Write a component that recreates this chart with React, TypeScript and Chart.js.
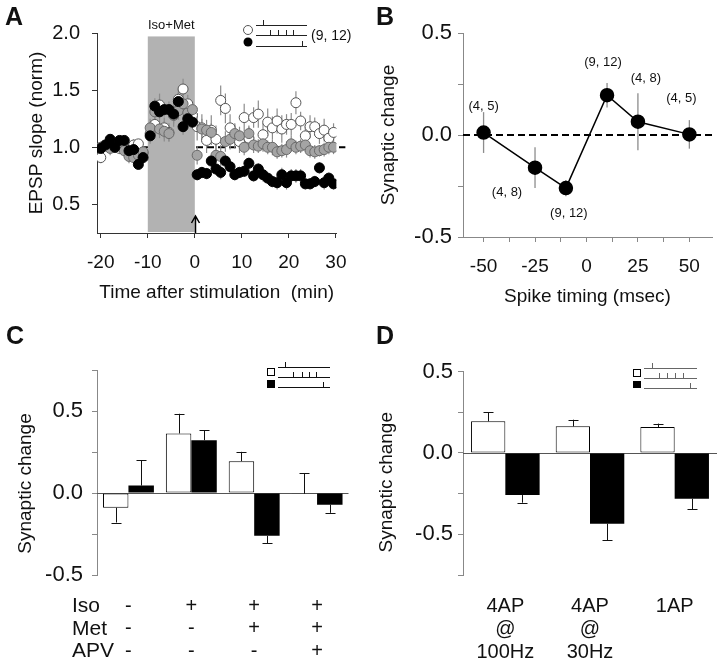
import React, { useEffect, useRef } from "react";
import { Chart, registerables } from "chart.js";

Chart.register(...registerables);

const FONT = '"Liberation Sans", Arial, Helvetica, sans-serif';
Chart.defaults.font.family = FONT;
Chart.defaults.color = "#111";

// ---------------- Panel A data ----------------
const minutesA = [
  -20, -19, -18, -17, -16, -15, -14, -13, -12, -11,
  -9.5, -8.5, -7.5, -6.5, -5.5, -4.5, -3.5, -2.5, -1.5, -0.5,
  0.5, 1.5, 2.5, 3.5, 4.5, 5.5, 6.5, 7.5, 8.5, 9.5,
  10.5, 11.5, 12.5, 13.5, 14.5, 15.5, 16.5, 17.5, 18.5, 19.5,
  20.5, 21.5, 22.5, 23.5, 24.5, 25.5, 26.5, 27.5, 28.5, 29.5,
];
const openA = [
  0.91, 1.01, 1.02, 1.0, 0.99, 1.0, 0.98, 1.02, 1.03, 0.95,
  1.12, 1.2, 1.37, 1.17, 1.13, 1.28, 1.42, 1.51, 1.38, 1.28,
  1.18, 1.17, 1.06, 1.15, 1.07, 1.41, 1.34, 1.17, 1.1, 1.05,
  1.26, 1.08, 1.26, 1.29, 1.11, 1.22, 1.17, 1.23, 1.16, 1.2,
  1.2, 1.39, 1.23, 1.1, 1.18, 1.18, 1.12, 1.15, 1.08, 1.13,
];
const grayA = [
  1.0, 1.02, 0.99, 1.0, 1.01, 0.97, 0.92, 0.91, 0.93, 0.96,
  1.17, 1.31, 1.16, 1.14, 1.12, 1.31, 1.32, 1.38, 1.3, 1.33,
  0.93, 1.16, 1.15, 1.13, 0.93, 0.92, 1.05, 1.07, 1.12, 1.1,
  1.0, 1.12, 1.02, 1.01, 1.03, 1.0, 1.0, 0.96, 0.97, 0.98,
  1.03, 1.0, 1.01, 1.02, 0.97, 0.96, 0.97, 0.98, 1.0, 1.0,
];
const blackA = [
  0.99, 1.02, 1.07, 1.0, 1.06, 1.06, 0.97, 0.98, 0.85, 0.91,
  1.1, 1.36, 1.31, 1.33, 1.33, 1.29, 1.4, 1.18, 1.25, 1.22,
  0.76, 0.78, 0.77, 0.88, 0.81, 0.78, 0.88, 0.83, 0.76, 0.78,
  0.79, 0.86, 0.75, 0.81, 0.76, 0.73, 0.7, 0.69, 0.76, 0.69,
  0.75, 0.75, 0.75, 0.68, 0.68, 0.7, 0.82, 0.69, 0.73, 0.68,
];
const openErrA = [
  0.05, 0.04, 0.05, 0.04, 0.05, 0.06, 0.05, 0.05, 0.04, 0.06,
  0.09, 0.1, 0.1, 0.09, 0.08, 0.1, 0.09, 0.09, 0.08, 0.07,
  0.12, 0.12, 0.11, 0.13, 0.12, 0.13, 0.13, 0.12, 0.11, 0.1,
  0.12, 0.1, 0.09, 0.12, 0.1, 0.12, 0.1, 0.11, 0.12, 0.09,
  0.1, 0.1, 0.08, 0.09, 0.1, 0.08, 0.09, 0.1, 0.07, 0.08,
];
const grayErrA = [
  0.05, 0.05, 0.06, 0.05, 0.06, 0.05, 0.06, 0.05, 0.05, 0.05,
  0.08, 0.1, 0.08, 0.09, 0.07, 0.1, 0.08, 0.08, 0.07, 0.07,
  0.08, 0.09, 0.09, 0.08, 0.09, 0.1, 0.09, 0.09, 0.08, 0.08,
  0.07, 0.07, 0.07, 0.06, 0.07, 0.06, 0.07, 0.06, 0.06, 0.07,
  0.07, 0.06, 0.06, 0.06, 0.06, 0.06, 0.05, 0.06, 0.06, 0.06,
];
const blackErrA = [
  0.03, 0.04, 0.04, 0.03, 0.04, 0.04, 0.05, 0.04, 0.04, 0.05,
  0.05, 0.07, 0.07, 0.06, 0.07, 0.06, 0.08, 0.07, 0.06, 0.05,
  0.05, 0.05, 0.05, 0.05, 0.05, 0.06, 0.05, 0.05, 0.05, 0.05,
  0.05, 0.05, 0.05, 0.05, 0.06, 0.05, 0.05, 0.06, 0.06, 0.06,
  0.06, 0.06, 0.06, 0.05, 0.05, 0.05, 0.05, 0.06, 0.05, 0.05,
];
const xTicksA = [-20, -10, 0, 10, 20, 30];
const yTicksA = [0.5, 1.0, 1.5, 2.0];
const drugWindowA = [-10, 0];
const drugLabelA = "Iso+Met";
const nLabelA = "(9, 12)";

// ---------------- Panel B data ----------------
const timingB = [-50, -25, -10, 10, 25, 50];
const changeB = [0.012, -0.16, -0.26, 0.195, 0.065, 0.003];
const errB = [0.1, 0.1, 0.04, 0.06, 0.14, 0.07];
const nLabelsB = ["(4, 5)", "(4, 8)", "(9, 12)", "(9, 12)", "(4, 8)", "(4, 5)"];
const xTicksB = [-50, -37.5, -25, -12.5, 0, 12.5, 25, 37.5, 50];
const yTicksB = [-0.5, -0.25, 0, 0.25, 0.5];

// ---------------- Panel C data ----------------
const drugRowsC = ["Iso", "Met", "APV"];
const drugMarksC = [
  ["-", "-", "-"],
  ["+", "-", "-"],
  ["+", "+", "-"],
  ["+", "+", "+"],
];
const whiteC = [-0.09, 0.363, 0.194, -0.005];
const whiteErrC = [-0.09, 0.12, 0.057, 0.127];
const blackC = [0.045, 0.322, -0.261, -0.071];
const blackErrC = [0.155, 0.06, -0.045, -0.05];
const yTicksC = [-0.5, -0.25, 0, 0.25, 0.5, 0.75];

// ---------------- Panel D data ----------------
const protocolsD = [
  ["4AP", "@", "100Hz"],
  ["4AP", "@", "30Hz"],
  ["1AP"],
];
const whiteD = [0.194, 0.163, 0.159];
const whiteErrD = [0.057, 0.041, 0.021];
const blackD = [-0.259, -0.435, -0.282];
const blackErrD = [-0.047, -0.102, -0.065];
const yTicksD = [-0.75, -0.5, -0.25, 0, 0.25, 0.5];

const yTitleBars = "Synaptic change";

// ---------------- helpers ----------------
const fixTicks = (vals: number[]) => (s: any) => {
  s.ticks = vals.map((v) => ({ value: v }));
};
const halfLabel = (v: any) => {
  const n = Number(v);
  return Math.abs(n * 2 - Math.round(n * 2)) < 1e-9 ? n.toFixed(1) : "";
};

function drawTrain(ctx: CanvasRenderingContext2D, x0: number, x1: number, y: number, ticks: number[], color: string) {
  ctx.save();
  ctx.strokeStyle = color;
  ctx.lineWidth = 1;
  ctx.beginPath();
  ctx.moveTo(x0, y + 0.5);
  ctx.lineTo(x1, y + 0.5);
  ticks.forEach((t) => {
    ctx.moveTo(t + 0.5, y + 0.5);
    ctx.lineTo(t + 0.5, y - 5);
  });
  ctx.stroke();
  ctx.restore();
}

function scatterErrors(errs: number[][], color: string, width: number) {
  return {
    id: "scatterErrors",
    beforeDatasetsDraw(chart: any) {
      const { ctx } = chart;
      const x = chart.scales.x;
      const y = chart.scales.y;
      ctx.save();
      ctx.strokeStyle = color;
      ctx.lineWidth = width;
      chart.data.datasets.forEach((ds: any, i: number) => {
        const e = errs[i];
        if (!e) return;
        ds.data.forEach((p: any, j: number) => {
          const px = x.getPixelForValue(p.x);
          ctx.beginPath();
          ctx.moveTo(px, y.getPixelForValue(p.y - e[j]));
          ctx.lineTo(px, y.getPixelForValue(p.y + e[j]));
          ctx.stroke();
        });
      });
      ctx.restore();
    },
  };
}

function barErrors(errs: number[][]) {
  return {
    id: "barErrors",
    afterDatasetsDraw(chart: any) {
      const { ctx } = chart;
      const y = chart.scales.y;
      ctx.save();
      ctx.strokeStyle = "#111";
      ctx.lineWidth = 1;
      chart.data.datasets.forEach((ds: any, i: number) => {
        const meta = chart.getDatasetMeta(i);
        meta.data.forEach((el: any, j: number) => {
          const v = ds.data[j];
          const y0 = y.getPixelForValue(v);
          const y1 = y.getPixelForValue(v + errs[i][j]);
          const x = Math.round(el.x) + 0.5;
          ctx.beginPath();
          ctx.moveTo(x, y0);
          ctx.lineTo(x, y1);
          ctx.moveTo(x - 5, Math.round(y1) + 0.5);
          ctx.lineTo(x + 5, Math.round(y1) + 0.5);
          ctx.stroke();
        });
      });
      ctx.restore();
    },
  };
}

function zeroLine(color: string) {
  return {
    id: "zeroLine",
    beforeDatasetsDraw(chart: any) {
      const { ctx, chartArea } = chart;
      const y = Math.round(chart.scales.y.getPixelForValue(0)) + 0.5;
      ctx.save();
      ctx.strokeStyle = color;
      ctx.lineWidth = 1;
      ctx.beginPath();
      ctx.moveTo(chartArea.left, y);
      ctx.lineTo(chartArea.right, y);
      ctx.stroke();
      ctx.restore();
    },
  };
}

function sideTitle(text: string, x: number, dy: number, size: number) {
  return {
    id: "sideTitle",
    afterDraw(chart: any) {
      const { ctx, chartArea } = chart;
      ctx.save();
      ctx.translate(x, (chartArea.top + chartArea.bottom) / 2 + dy);
      ctx.rotate(-Math.PI / 2);
      ctx.font = `${size}px ${FONT}`;
      ctx.fillStyle = "#111";
      ctx.textAlign = "center";
      ctx.textBaseline = "middle";
      ctx.fillText(text, 0, 0);
      ctx.restore();
    },
  };
}

const baseOptions = {
  responsive: false,
  maintainAspectRatio: false,
  animation: false,
  devicePixelRatio: 1,
  events: [] as any[],
  plugins: { legend: { display: false }, tooltip: { enabled: false } },
};

// ---------------- configs ----------------
function configA(): any {
  const mk = (vals: number[]) => minutesA.map((t, i) => ({ x: t, y: vals[i] }));
  return {
    type: "scatter",
    data: {
      datasets: [
        { data: mk(blackA), pointRadius: 5, backgroundColor: "#000", borderColor: "#000", borderWidth: 1 },
        { data: mk(grayA), pointRadius: 5, backgroundColor: "#a4a4a4", borderColor: "#6a6a6a", borderWidth: 1 },
        { data: mk(openA), pointRadius: 5, backgroundColor: "#fff", borderColor: "#555", borderWidth: 1 },
      ],
    },
    options: {
      ...baseOptions,
      layout: { padding: { left: 0, top: 33, right: 17, bottom: 0 } },
      scales: {
        x: {
          type: "linear",
          min: -20.8,
          max: 30.1,
          afterBuildTicks: fixTicks(xTicksA),
          afterFit: (s: any) => { s.height = 92; },
          ticks: { font: { size: 19 }, padding: 13.5, color: "#111", callback: (v: any) => String(v) },
          grid: { drawOnChartArea: false, drawTicks: true, tickLength: 5, color: "#333" },
          border: { color: "#333", width: 1 },
          title: { display: true, text: "Time after stimulation  (min)", font: { size: 19 }, color: "#111", padding: { top: 0, bottom: 21 } },
        },
        y: {
          type: "linear",
          min: 0.25,
          max: 2.0,
          afterBuildTicks: fixTicks(yTicksA),
          afterFit: (s: any) => { s.width = 97; },
          ticks: { font: { size: 20 }, padding: 12, color: "#111", callback: (v: any) => Number(v).toFixed(1) },
          grid: { drawOnChartArea: false, drawTicks: true, tickLength: 5, color: "#333" },
          border: { color: "#333", width: 1 },
          title: { display: true, text: "EPSP slope (norm)", font: { size: 19 }, color: "#111", padding: { top: 25.5, bottom: 0 } },
        },
      },
    },
    plugins: [
      {
        id: "aBackground",
        beforeDatasetsDraw(chart: any) {
          const { ctx, chartArea } = chart;
          const x = chart.scales.x;
          const y = chart.scales.y;
          ctx.save();
          ctx.strokeStyle = "#000";
          ctx.lineWidth = 2;
          ctx.setLineDash([7, 4]);
          const yb = y.getPixelForValue(1.0);
          ctx.beginPath();
          ctx.moveTo(chartArea.left, yb);
          ctx.lineTo(chartArea.right + 9, yb);
          ctx.stroke();
          ctx.restore();
          const x0 = x.getPixelForValue(drugWindowA[0]);
          const x1 = x.getPixelForValue(drugWindowA[1]);
          const yt = y.getPixelForValue(1.97);
          ctx.save();
          ctx.fillStyle = "#b2b2b2";
          ctx.fillRect(x0, yt, x1 - x0, chartArea.bottom - 1 - yt);
          ctx.font = `13px ${FONT}`;
          ctx.fillStyle = "#111";
          ctx.textAlign = "center";
          ctx.textBaseline = "middle";
          ctx.fillText(drugLabelA, (x0 + x1) / 2, yt - 11);
          ctx.restore();
        },
      },
      scatterErrors([blackErrA, grayErrA, openErrA], "#8c8c8c", 1.2),
      {
        id: "aOverlay",
        afterDatasetsDraw(chart: any) {
          const { ctx, chartArea } = chart;
          const x = Math.round(chart.scales.x.getPixelForValue(0)) + 0.5;
          const b = chartArea.bottom;
          ctx.save();
          ctx.strokeStyle = "#000";
          ctx.lineWidth = 1.5;
          ctx.beginPath();
          ctx.moveTo(x, b);
          ctx.lineTo(x, b - 17);
          ctx.moveTo(x - 4, b - 10);
          ctx.lineTo(x, b - 17);
          ctx.lineTo(x + 4, b - 10);
          ctx.stroke();
          ctx.lineWidth = 1;
          ctx.fillStyle = "#fff";
          ctx.strokeStyle = "#555";
          ctx.beginPath();
          ctx.arc(248, 30, 4.5, 0, Math.PI * 2);
          ctx.fill();
          ctx.stroke();
          ctx.fillStyle = "#000";
          ctx.beginPath();
          ctx.arc(248, 42, 4.5, 0, Math.PI * 2);
          ctx.fill();
          ctx.restore();
          drawTrain(ctx, 256, 307, 25, [263], "#222");
          drawTrain(ctx, 256, 307, 35, [270, 278, 286, 293], "#222");
          drawTrain(ctx, 256, 307, 46, [302], "#222");
          ctx.save();
          ctx.font = `14px ${FONT}`;
          ctx.fillStyle = "#111";
          ctx.textAlign = "left";
          ctx.textBaseline = "middle";
          ctx.fillText(nLabelA, 311, 36);
          ctx.restore();
        },
      },
    ],
  };
}

const labelOffsetsB = [
  [0, -26],
  [-28, 25],
  [3, 25],
  [-4, -33],
  [8, -43],
  [-8, -36],
];

function configB(): any {
  return {
    type: "scatter",
    data: {
      datasets: [
        {
          data: timingB.map((t, i) => ({ x: t, y: changeB[i] })),
          showLine: true,
          borderColor: "#000",
          borderWidth: 1.5,
          pointRadius: 6.5,
          pointBackgroundColor: "#000",
          pointBorderColor: "#000",
        },
      ],
    },
    options: {
      ...baseOptions,
      layout: { padding: { left: 0, top: 33, right: 2, bottom: 0 } },
      scales: {
        x: {
          type: "linear",
          min: -60,
          max: 61,
          afterBuildTicks: fixTicks(xTicksB),
          afterFit: (s: any) => { s.height = 88; },
          ticks: { font: { size: 19 }, padding: 13, color: "#111", autoSkip: false, maxRotation: 0, callback: (v: any) => (Number(v) % 25 === 0 ? String(v) : "") },
          grid: { drawOnChartArea: false, drawTicks: true, tickLength: 5, color: "#888" },
          border: { color: "#888", width: 1 },
          title: { display: true, text: "Spike timing (msec)", font: { size: 19 }, color: "#111", padding: { top: 0, bottom: 17 } },
        },
        y: {
          type: "linear",
          min: -0.5,
          max: 0.5,
          afterBuildTicks: fixTicks(yTicksB),
          afterFit: (s: any) => { s.width = 103; },
          ticks: { font: { size: 22 }, padding: 6, color: "#111", autoSkip: false, callback: halfLabel },
          grid: { drawOnChartArea: false, drawTicks: true, tickLength: 5, color: "#888" },
          border: { color: "#888", width: 1 },
          title: { display: true, text: "Synaptic change", font: { size: 19 }, color: "#111", padding: { top: 17, bottom: 0 } },
        },
      },
    },
    plugins: [
      {
        id: "bZero",
        beforeDatasetsDraw(chart: any) {
          const { ctx, chartArea } = chart;
          const y = chart.scales.y.getPixelForValue(0);
          ctx.save();
          ctx.strokeStyle = "#000";
          ctx.lineWidth = 2;
          ctx.setLineDash([7, 4]);
          ctx.beginPath();
          ctx.moveTo(chartArea.left, y);
          ctx.lineTo(chartArea.right, y);
          ctx.stroke();
          ctx.restore();
        },
      },
      scatterErrors([errB], "#8c8c8c", 1.3),
      {
        id: "bLabels",
        afterDatasetsDraw(chart: any) {
          const { ctx } = chart;
          const x = chart.scales.x;
          const y = chart.scales.y;
          ctx.save();
          ctx.font = `13px ${FONT}`;
          ctx.fillStyle = "#111";
          ctx.textAlign = "center";
          ctx.textBaseline = "middle";
          nLabelsB.forEach((lab, i) => {
            const px = x.getPixelForValue(timingB[i]) + labelOffsetsB[i][0];
            const py = y.getPixelForValue(changeB[i]) + labelOffsetsB[i][1];
            ctx.fillText(lab, px, py);
          });
          ctx.restore();
        },
      },
    ],
  };
}

function barConfig(opts: {
  labels: string[][];
  white: number[];
  black: number[];
  errs: number[][];
  yMin: number;
  yMax: number;
  yTicks: number[];
  yWidth: number;
  padTop: number;
  padRight: number;
  tickPad: number;
  labelPad: number;
  titleX: number;
  titleDy: number;
  lineColor: string;
  extra: any[];
}): any {
  return {
    type: "bar",
    data: {
      labels: opts.labels,
      datasets: [
        { data: opts.white, backgroundColor: "#fff", borderColor: "#000", borderWidth: 1, borderSkipped: false, categoryPercentage: 0.81, barPercentage: 1.0 },
        { data: opts.black, backgroundColor: "#000", borderColor: "#000", borderWidth: 0, borderSkipped: false, categoryPercentage: 0.81, barPercentage: 1.0 },
      ],
    },
    options: {
      ...baseOptions,
      layout: { padding: { left: 0, top: opts.padTop, right: opts.padRight, bottom: 0 } },
      scales: {
        x: {
          type: "category",
          afterFit: (s: any) => { s.height = 86; },
          ticks: { font: { size: 20, lineHeight: 1.13 }, padding: opts.labelPad, color: "#111", autoSkip: false, maxRotation: 0 },
          grid: { display: false, drawTicks: false },
          border: { display: false },
        },
        y: {
          type: "linear",
          min: opts.yMin,
          max: opts.yMax,
          afterBuildTicks: fixTicks(opts.yTicks),
          afterFit: (s: any) => { s.width = opts.yWidth; },
          ticks: { font: { size: 22 }, padding: opts.tickPad, color: "#111", autoSkip: false, callback: halfLabel },
          grid: { drawOnChartArea: false, drawTicks: true, tickLength: 5, color: opts.lineColor },
          border: { color: opts.lineColor, width: 1 },
          title: { display: false },
        },
      },
    },
    plugins: [zeroLine("#555"), barErrors(opts.errs), sideTitle(yTitleBars, opts.titleX, opts.titleDy, 19), ...opts.extra],
  };
}

function configC(): any {
  return barConfig({
    labels: drugMarksC,
    white: whiteC,
    black: blackC,
    errs: [whiteErrC, blackErrC],
    yMin: -0.5,
    yMax: 0.75,
    yTicks: yTicksC,
    yWidth: 97,
    padTop: 45,
    padRight: 11.5,
    tickPad: 9,
    labelPad: 20,
    titleX: 26,
    titleDy: 11,
    lineColor: "#888",
    extra: [
      {
        id: "cExtra",
        afterDraw(chart: any) {
          const { ctx } = chart;
          const xs = chart.scales.x;
          const lh = 20 * 1.13;
          ctx.save();
          ctx.font = `21px ${FONT}`;
          ctx.fillStyle = "#111";
          ctx.textAlign = "left";
          ctx.textBaseline = "middle";
          drugRowsC.forEach((r, i) => {
            ctx.fillText(r, 72, xs.top + 20 + lh * (i + 0.5));
          });
          ctx.fillStyle = "#fff";
          ctx.strokeStyle = "#000";
          ctx.lineWidth = 1;
          ctx.fillRect(267, 43, 7, 7);
          ctx.strokeRect(267.5, 43.5, 7, 7);
          ctx.fillStyle = "#000";
          ctx.fillRect(267, 55, 8, 8);
          ctx.restore();
          drawTrain(ctx, 278, 330, 42, [285], "#111");
          drawTrain(ctx, 278, 330, 52, [293, 302, 309, 316], "#111");
          drawTrain(ctx, 278, 330, 62, [323], "#111");
        },
      },
    ],
  });
}

function configD(): any {
  return barConfig({
    labels: protocolsD,
    white: whiteD,
    black: blackD,
    errs: [whiteErrD, blackErrD],
    yMin: -0.75,
    yMax: 0.5,
    yTicks: yTicksD,
    yWidth: 103,
    padTop: 46.5,
    padRight: 3,
    tickPad: 5,
    labelPad: 20.5,
    titleX: 27,
    titleDy: 9,
    lineColor: "#888",
    extra: [
      {
        id: "dExtra",
        afterDraw(chart: any) {
          const { ctx } = chart;
          ctx.save();
          ctx.fillStyle = "#fff";
          ctx.strokeStyle = "#000";
          ctx.lineWidth = 1;
          ctx.fillRect(273, 44, 7, 7);
          ctx.strokeRect(273.5, 44.5, 7, 7);
          ctx.fillStyle = "#000";
          ctx.fillRect(273, 56, 8, 7);
          ctx.restore();
          drawTrain(ctx, 284, 337, 43, [292], "#666");
          drawTrain(ctx, 284, 337, 53, [299, 307, 315, 323], "#666");
          drawTrain(ctx, 284, 337, 63, [330], "#666");
        },
      },
    ],
  });
}

function Panel({ make, left, top, width, height }: { make: () => any; left: number; top: number; width: number; height: number }) {
  const ref = useRef<HTMLCanvasElement>(null);
  useEffect(() => {
    const chart = new Chart(ref.current as HTMLCanvasElement, make());
    return () => chart.destroy();
  }, []);
  return (
    <canvas
      ref={ref}
      width={width}
      height={height}
      style={{ position: "absolute", left, top, width, height, display: "block" }}
    />
  );
}

const letterStyle = (left: number, top: number): React.CSSProperties => ({
  position: "absolute",
  left,
  top,
  font: `bold 25px ${FONT}`,
  lineHeight: "25px",
  color: "#111",
});

export default function App() {
  return (
    <div style={{ position: "absolute", left: 0, top: 0, width: 720, height: 661, background: "#fff", overflow: "hidden" }}>
      <Panel make={configA} left={0} top={0} width={360} height={325} />
      <Panel make={configB} left={360} top={0} width={360} height={325} />
      <Panel make={configC} left={0} top={325} width={360} height={336} />
      <Panel make={configD} left={360} top={325} width={360} height={336} />
      <div style={letterStyle(5, 4)}>A</div>
      <div style={letterStyle(376, 4)}>B</div>
      <div style={letterStyle(6, 323)}>C</div>
      <div style={letterStyle(376, 323)}>D</div>
    </div>
  );
}
